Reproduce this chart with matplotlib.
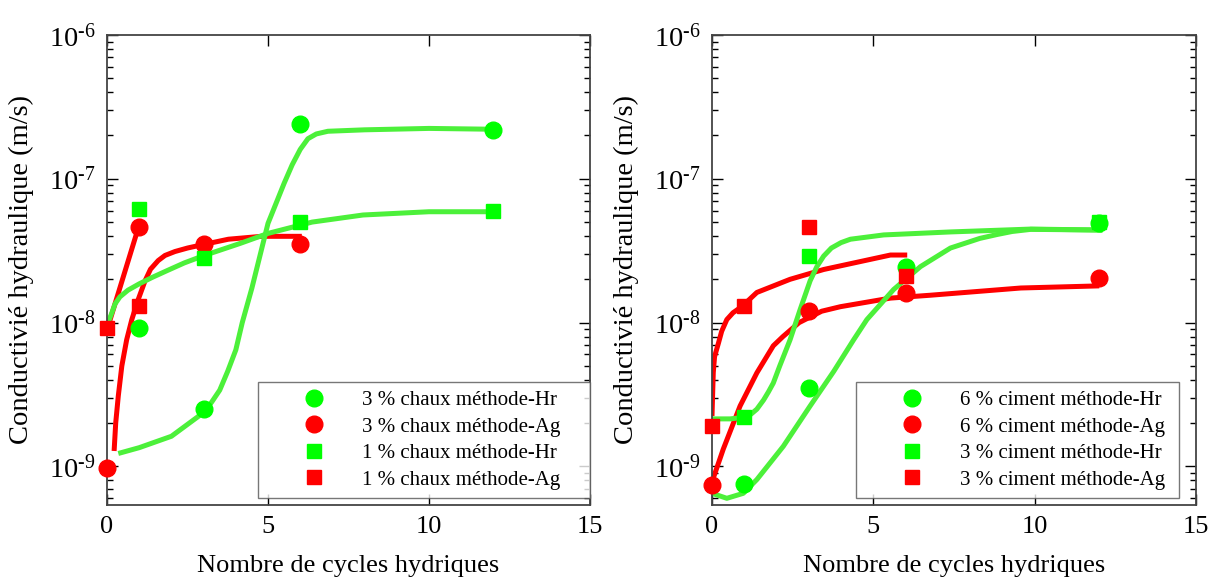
import numpy as np
import matplotlib.pyplot as plt
from matplotlib.ticker import FixedLocator, NullFormatter, FuncFormatter

plt.rcParams['font.family'] = ['Liberation Serif', 'DejaVu Serif']
plt.rcParams['mathtext.fontset'] = 'custom'
plt.rcParams['mathtext.rm'] = 'Liberation Serif'
plt.rcParams['mathtext.it'] = 'Liberation Serif:italic'

# measured points - chaux (left)
chaux3_hr_x = [1, 3, 6, 12]
chaux3_hr = [9.1e-9, 2.5e-9, 2.4e-7, 2.2e-7]
chaux3_ag_x = [0, 1, 3, 6]
chaux3_ag = [9.7e-10, 4.6e-8, 3.5e-8, 3.5e-8]
chaux1_hr_x = [1, 3, 6, 12]
chaux1_hr = [6.2e-8, 2.8e-8, 5.0e-8, 6.0e-8]
chaux1_ag_x = [0, 1]
chaux1_ag = [9.1e-9, 1.3e-8]

# trend curves - chaux
fit_c3hr_x = [0.35, 1, 2, 3, 3.25, 3.5, 3.75, 4, 4.2, 4.5, 5, 5.5, 5.75, 6, 6.24, 6.5, 6.86, 8, 10, 12]
fit_c3hr = [1.23e-9, 1.35e-9, 1.62e-9, 2.37e-9, 2.8e-9, 3.39e-9, 4.6e-9, 6.46e-9, 1.0e-8, 1.74e-8,
            4.9e-8, 9.3e-8, 1.25e-7, 1.6e-7, 1.9e-7, 2.05e-7, 2.14e-7, 2.19e-7, 2.24e-7, 2.21e-7]
fit_c3ag_x = [0.22, 0.27, 0.35, 0.46, 0.61, 0.77, 0.97, 1.18, 1.35, 1.59, 1.8, 2.11, 2.5, 2.94,
              3.77, 4.8, 6.05]
fit_c3ag = [1.28e-9, 2.01e-9, 3.09e-9, 5.0e-9, 7.6e-9, 1.05e-8, 1.45e-8, 1.95e-8, 2.35e-8,
            2.7e-8, 2.93e-8, 3.12e-8, 3.3e-8, 3.47e-8, 3.8e-8, 3.98e-8, 3.98e-8]
fit_c1hr_x = [0, 0.07, 0.15, 0.25, 0.4, 0.65, 1.0, 1.4, 1.85, 2.4, 3.0, 4.13, 5.0, 6.37, 7.95, 10, 12]
fit_c1hr = [8.9e-9, 1.05e-8, 1.17e-8, 1.35e-8, 1.51e-8, 1.68e-8, 1.86e-8, 2.06e-8, 2.29e-8,
            2.6e-8, 2.92e-8, 3.55e-8, 4.17e-8, 5.0e-8, 5.6e-8, 5.9e-8, 5.9e-8]
fit_c1ag_x = [0, 0.95]
fit_c1ag = [8.9e-9, 4.4e-8]

# measured points - ciment (right)
ciment6_hr_x = [1, 3, 6, 12]
ciment6_hr = [7.5e-10, 3.5e-9, 2.45e-8, 4.9e-8]
ciment6_ag_x = [0, 3, 6, 12]
ciment6_ag = [7.4e-10, 1.2e-8, 1.6e-8, 2.05e-8]
ciment3_hr_x = [1, 3, 12]
ciment3_hr = [2.2e-9, 2.9e-8, 5.0e-8]
ciment3_ag_x = [0, 1, 3, 6]
ciment3_ag = [1.9e-9, 1.3e-8, 4.6e-8, 2.1e-8]

# trend curves - ciment
fit_m6hr_x = [0, 0.46, 0.97, 1.39, 2.21, 3.04, 3.77, 4.39, 4.8, 5.63, 6.46, 7.39, 8.3, 8.84,
              9.3, 9.88, 12.1]
fit_m6hr = [6.5e-10, 6.0e-10, 6.5e-10, 8.1e-10, 1.38e-9, 2.63e-9, 4.57e-9, 7.6e-9,
            1.05e-8, 1.7e-8, 2.45e-8, 3.3e-8, 3.85e-8, 4.1e-8, 4.3e-8, 4.45e-8, 4.4e-8]
fit_m6ag_x = [0, 0.35, 0.87, 1.39, 1.9, 2.2, 2.7, 3.4, 3.98, 5.53, 6.77, 9.57, 12]
fit_m6ag = [7.8e-10, 1.32e-9, 2.63e-9, 4.47e-9, 6.9e-9, 8.0e-9, 1.0e-8, 1.2e-8, 1.29e-8,
            1.48e-8, 1.55e-8, 1.74e-8, 1.8e-8]
fit_m3hr_x = [0, 0.56, 0.97, 1.2, 1.39, 1.6, 1.75, 1.9, 2.1, 2.42, 2.73, 3.04, 3.25, 3.46,
              3.7, 4.0, 4.29, 5.32, 7.39, 9.88, 12.1]
fit_m3hr = [2.14e-9, 2.14e-9, 2.19e-9, 2.3e-9, 2.5e-9, 2.9e-9, 3.3e-9, 3.8e-9, 5.0e-9,
            7.6e-9, 1.23e-8, 1.95e-8, 2.45e-8, 2.9e-8, 3.3e-8, 3.6e-8, 3.8e-8, 4.07e-8,
            4.27e-8, 4.47e-8, 4.4e-8]
fit_m3ag_x = [0, 0.02, 0.04, 0.08, 0.2, 0.3, 0.46, 0.65, 0.92, 1.39, 2.42, 3.46, 5.53, 6.05]
fit_m3ag = [2.24e-9, 3.2e-9, 4.5e-9, 5.8e-9, 7.2e-9, 8.7e-9, 1.05e-8, 1.17e-8, 1.29e-8,
            1.62e-8, 2.0e-8, 2.34e-8, 2.95e-8, 2.95e-8]

# axis ticks
x_ticks = [0, 5, 10, 15]
y_major = [1e-9, 1e-8, 1e-7, 1e-6]
y_minor = [m * 10.0 ** e for e in range(-10, -6) for m in range(2, 10)]
y_minor = [v for v in y_minor if 5.4e-10 <= v <= 1e-6]

GREEN = '#00ff00'
RED = '#ff0000'
LGREEN = '#4cf03a'

fig = plt.figure(figsize=(12.08, 5.79), dpi=100)
ax1 = fig.add_axes([0.0886, 0.128, 0.3998, 0.8116])
ax2 = fig.add_axes([0.5894, 0.128, 0.4007, 0.8116])


def pow10(v, pos):
    e = int(round(np.log10(v)))
    return r'$\mathrm{10}^{\text{%d}}$' % e


def panel(ax, fits, points, labels, leg_x, leg_w):
    for (fx, fy, c) in fits:
        ax.plot(fx, fy, color=c, lw=3.6, solid_capstyle='butt', solid_joinstyle='round', zorder=2)
    handles = []
    for (px, py, c, m, ms), lab in zip(points, labels):
        h, = ax.plot(px, py, ls='none', marker=m, color=c, ms=ms, mec=c, zorder=3,
                     label=lab, clip_on=False)
        handles.append(h)
    ax.set_yscale('log')
    ax.set_xlim(0, 15)
    ax.set_ylim(5.4e-10, 1e-6)
    ax.set_xticks(x_ticks)
    ax.yaxis.set_major_locator(FixedLocator(y_major))
    ax.yaxis.set_major_formatter(FuncFormatter(pow10))
    ax.yaxis.set_minor_locator(FixedLocator(y_minor))
    ax.yaxis.set_minor_formatter(NullFormatter())
    ax.tick_params(which='both', direction='in', top=True, right=True, labelsize=19, pad=8)
    ax.tick_params(axis='y', which='major', labelsize=20.5)
    ax.tick_params(which='major', length=8, width=1)
    ax.tick_params(which='minor', length=4, width=1)
    for s in ax.spines.values():
        s.set_linewidth(1.3)
        s.set_color('#444444')
    ax.set_xlabel('Nombre de cycles hydriques', fontsize=19, labelpad=12)
    ax.set_ylabel('Conductivié hydraulique (m/s)', fontsize=20.5, labelpad=11)
    leg = ax.legend(handles=handles, loc='lower left', bbox_to_anchor=(leg_x, 0.015, leg_w, 0.2),
                    mode='expand', fontsize=15, frameon=True, fancybox=False,
                    handlelength=4.6, handletextpad=0.0, borderpad=0.4, labelspacing=0.33,
                    borderaxespad=0)
    leg.get_frame().set_edgecolor('#555555')
    leg.get_frame().set_linewidth(1.0)


panel(ax1,
      [(fit_c1ag_x, fit_c1ag, RED), (fit_c3ag_x, fit_c3ag, RED),
       (fit_c1hr_x, fit_c1hr, LGREEN), (fit_c3hr_x, fit_c3hr, LGREEN)],
      [(chaux3_hr_x, chaux3_hr, GREEN, 'o', 12), (chaux3_ag_x, chaux3_ag, RED, 'o', 12),
       (chaux1_hr_x, chaux1_hr, GREEN, 's', 9.5), (chaux1_ag_x, chaux1_ag, RED, 's', 9.5)],
      ['3 % chaux méthode-Hr', '3 % chaux méthode-Ag',
       '1 % chaux méthode-Hr', '1 % chaux méthode-Ag'],
      0.3126, 0.687)

panel(ax2,
      [(fit_m3ag_x, fit_m3ag, RED), (fit_m6ag_x, fit_m6ag, RED),
       (fit_m3hr_x, fit_m3hr, LGREEN), (fit_m6hr_x, fit_m6hr, LGREEN)],
      [(ciment6_hr_x, ciment6_hr, GREEN, 'o', 12), (ciment6_ag_x, ciment6_ag, RED, 'o', 12),
       (ciment3_hr_x, ciment3_hr, GREEN, 's', 9.5), (ciment3_ag_x, ciment3_ag, RED, 's', 9.5)],
      ['6 % ciment méthode-Hr', '6 % ciment méthode-Ag',
       '3 % ciment méthode-Hr', '3 % ciment méthode-Ag'],
      0.2975, 0.667)

fig.savefig('out.png', dpi=100)
